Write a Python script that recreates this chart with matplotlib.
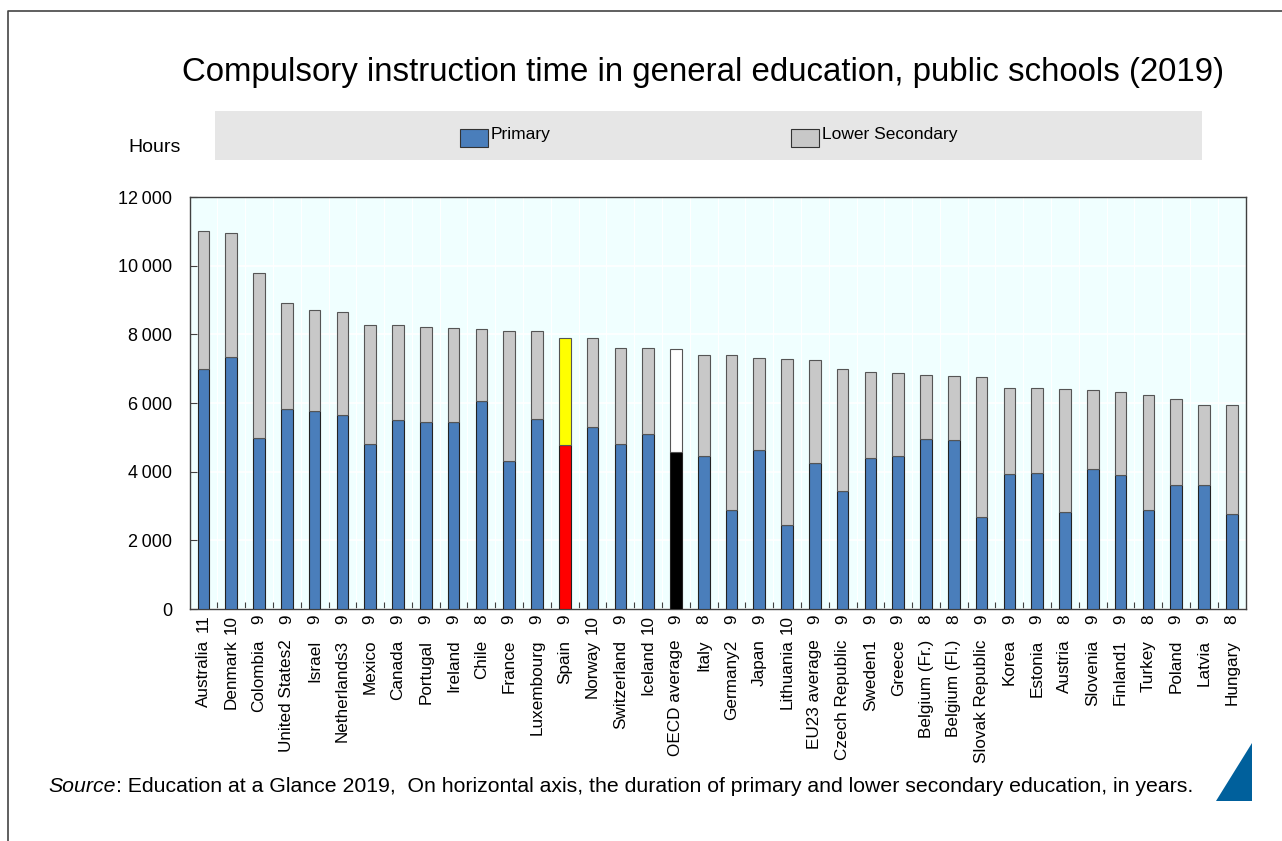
import matplotlib
matplotlib.use('Agg')
import matplotlib.pyplot as plt
import matplotlib.font_manager as fm
from matplotlib.patches import Rectangle, Polygon
from matplotlib.lines import Line2D
from matplotlib.ticker import FixedLocator, FuncFormatter

# data
countries = ['Australia', 'Denmark', 'Colombia', 'United States2', 'Israel',
             'Netherlands3', 'Mexico', 'Canada', 'Portugal', 'Ireland', 'Chile',
             'France', 'Luxembourg', 'Spain', 'Norway', 'Switzerland', 'Iceland',
             'OECD average', 'Italy', 'Germany2', 'Japan', 'Lithuania',
             'EU23 average', 'Czech Republic', 'Sweden1', 'Greece',
             'Belgium (Fr.)', 'Belgium (Fl.)', 'Slovak Republic', 'Korea',
             'Estonia', 'Austria', 'Slovenia', 'Finland1', 'Turkey', 'Poland',
             'Latvia', 'Hungary']
years = [11, 10, 9, 9, 9, 9, 9, 9, 9, 9, 8, 9, 9, 9, 10, 9, 10, 9, 8, 9, 9, 10,
         9, 9, 9, 9, 8, 8, 9, 9, 9, 8, 9, 9, 8, 9, 9, 8]
primary = [7000, 7350, 4985, 5830, 5760, 5640, 4795, 5510, 5440, 5445, 6055,
           4310, 5540, 4765, 5290, 4795, 5085, 4580, 4445, 2890, 4635, 2435,
           4240, 3435, 4405, 4470, 4955, 4920, 2670, 3930, 3960, 2830, 4085,
           3890, 2890, 3600, 3600, 2765]
lower_secondary = [4000, 3610, 4815, 3075, 2950, 3005, 3490, 2775, 2785, 2740,
                   2100, 3780, 2550, 3130, 2605, 2810, 2520, 2985, 2965, 4520,
                   2680, 4840, 3005, 3560, 2490, 2390, 1875, 1870, 4090, 2510,
                   2480, 3580, 2295, 2425, 3355, 2520, 2355, 3190]
y_ticks = [0, 2000, 4000, 6000, 8000, 10000, 12000]

W, H = 1282, 841
BLUE = '#4A7EBB'
GREY = '#C8C8C8'

available = {f.name for f in fm.fontManager.ttflist}
NARROW = 'Liberation Sans Narrow' if 'Liberation Sans Narrow' in available else 'Liberation Sans'
plt.rcParams['font.family'] = ['Liberation Sans', 'DejaVu Sans']

prim_colors = []
sec_colors = []
for c in countries:
    if c == 'Spain':
        prim_colors.append('#FF0000')
        sec_colors.append('#FFFF00')
    elif c == 'OECD average':
        prim_colors.append('#000000')
        sec_colors.append('#FFFFFF')
    else:
        prim_colors.append(BLUE)
        sec_colors.append(GREY)

fig = plt.figure(figsize=(W / 100, H / 100), dpi=100)
ax = fig.add_axes([189.6 / W, 1 - 609 / H, (1245.6 - 189.6) / W, (609 - 197) / H])
ax.set_facecolor('#F0FFFF')

x = list(range(len(countries)))
ax.bar(x, primary, width=0.42, color=prim_colors, edgecolor='#222222',
       linewidth=0.8, zorder=3)
ax.bar(x, lower_secondary, width=0.42, bottom=primary, color=sec_colors,
       edgecolor='#555555', linewidth=0.8, zorder=3)

ax.set_xlim(-0.5, len(countries) - 0.5)
ax.set_ylim(0, 12000)

ax.set_yticks(y_ticks)
ax.yaxis.set_major_formatter(FuncFormatter(lambda v, p: f'{int(v):,}'.replace(',', '\u2009')))
ax.tick_params(axis='y', direction='in', length=5, width=0.8, color='#404040',
               pad=12.5, labelsize=13)
for lab in ax.get_yticklabels():
    lab.set_fontfamily([NARROW, 'DejaVu Sans'])

ax.set_xticks(x)
ax.set_xticklabels(countries, rotation=90, fontsize=12.3)
ax.tick_params(axis='x', which='major', length=0, pad=22)
ax.xaxis.set_minor_locator(FixedLocator([i + 0.5 for i in x[:-1]]))
ax.tick_params(axis='x', which='minor', direction='in', length=5, width=0.8,
               color='#404040')

for i, yr in zip(x, years):
    ax.annotate(str(yr), xy=(i, 0), xycoords=('data', 'axes fraction'),
                xytext=(0, -4), textcoords='offset points', rotation=90,
                ha='center', va='top', fontsize=12.3)

ax.grid(axis='y', color='white', linewidth=1.2, zorder=0)
ax.grid(axis='x', which='minor', color='white', linewidth=0.8, zorder=0)
ax.set_axisbelow(True)
for s in ax.spines.values():
    s.set_color('#404040')
    s.set_linewidth(1)

# title, unit, legend strip
fig.text(703 / W, 1 - 73 / H,
         'Compulsory instruction time in general education, public schools (2019)',
         ha='center', va='center', fontsize=23.8)
fig.text(128 / W, 1 - 147 / H, 'Hours', ha='left', va='center', fontsize=14)

fig.patches.append(Rectangle((215 / W, 1 - 160 / H), (1202 - 215) / W, 49 / H,
                             transform=fig.transFigure, facecolor='#E6E6E6',
                             edgecolor='none', zorder=0))
for x0, label, col in [(460, 'Primary', BLUE), (791, 'Lower Secondary', GREY)]:
    fig.patches.append(Rectangle((x0 / W, 1 - 147 / H), 28 / W, 18 / H,
                                 transform=fig.transFigure, facecolor=col,
                                 edgecolor='#333333', linewidth=0.8, zorder=1))
    fig.text((x0 + 31) / W, 1 - 135 / H, label, ha='left', va='center',
             fontsize=12.5, family=[NARROW, 'DejaVu Sans'])

# source line
renderer = fig.canvas.get_renderer()
t1 = fig.text(48 / W, 1 - 787 / H, 'Source', ha='left', va='center',
              fontsize=15.3, style='italic')
bb = t1.get_window_extent(renderer=renderer)
fig.text(bb.x1 / W, 1 - 787 / H,
         ': Education at a Glance 2019,  On horizontal axis, the duration of '
         'primary and lower secondary education, in years.',
         ha='left', va='center', fontsize=15.3)

# corner triangle and page frame
fig.patches.append(Polygon([(1216 / W, 1 - 801 / H), (1252 / W, 1 - 801 / H),
                            (1252 / W, 1 - 743 / H)], closed=True,
                           transform=fig.transFigure, facecolor='#00609C',
                           edgecolor='none'))
fig.lines.append(Line2D([8 / W, 8 / W, 1], [0, 1 - 11 / H, 1 - 11 / H],
                        transform=fig.transFigure, color='#444444', linewidth=1.2))

fig.savefig('out.png', dpi=100)
